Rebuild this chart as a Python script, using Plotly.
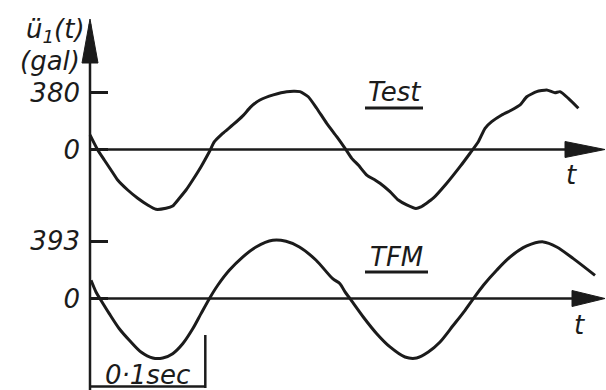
import plotly.graph_objects as go

# ---- data -------------------------------------------------------------
# Test record: time (s) and acceleration (gal)
test_t = [0.0, 0.0037, 0.0067, 0.0124, 0.0182, 0.0240, 0.0327, 0.0414, 0.0500,
          0.0572, 0.0659, 0.0717, 0.0775, 0.0833, 0.0891, 0.0963, 0.1035, 0.1079,
          0.1151, 0.1238, 0.1325, 0.1388, 0.1425, 0.1474, 0.1590, 0.1706, 0.1821,
          0.1893, 0.1966, 0.2053, 0.2140, 0.2212, 0.2270, 0.2327, 0.2400, 0.2472,
          0.2515, 0.2602, 0.2674, 0.2747, 0.2827, 0.2870, 0.2977, 0.3094, 0.3209,
          0.3296, 0.3368, 0.3426, 0.3484, 0.3571, 0.3657, 0.3730, 0.3788, 0.3874,
          0.3961, 0.4033, 0.4076, 0.4149, 0.4236]
test_a = [97, 41, -3, -70, -137, -204, -271, -326, -371,
          -400, -393, -378, -326, -271, -204, -115, -15, 52,
          108, 164, 225, 280, 306, 331, 365, 387, 387,
          353, 276, 175, 86, 8, -59, -104, -171, -204,
          -226, -282, -338, -371, -395, -384, -326, -226, -115,
          -25, 52, 142, 186, 231, 264, 298, 353, 387,
          398, 380, 387, 342, 276]

# TFM model: time (s) and acceleration (gal)
tfm_t = [0.0009, 0.0052, 0.0095, 0.0167, 0.0254, 0.0341, 0.0442, 0.0544, 0.0631,
         0.0717, 0.0804, 0.0891, 0.0963, 0.1035, 0.1108, 0.1208, 0.1324, 0.1440,
         0.1585, 0.1700, 0.1816, 0.1961, 0.2105, 0.2168, 0.2212, 0.2255, 0.2370,
         0.2487, 0.2602, 0.2732, 0.2833, 0.2934, 0.3036, 0.3151, 0.3253, 0.3325,
         0.3412, 0.3527, 0.3643, 0.3788, 0.3932, 0.4048, 0.4192, 0.4380]
tfm_a = [125, 45, -12, -104, -208, -287, -368, -409, -409,
         -379, -311, -208, -104, -1, 91, 194, 285, 354,
         400, 393, 354, 263, 136, 102, 45, -1, -127,
         -242, -333, -402, -409, -368, -299, -184, -81, -1,
         91, 194, 285, 361, 389, 354, 274, 159]

test_ticks = [0, 380]
tfm_ticks = [0, 393]
time_bar = 0.1  # length of the time-scale bracket (s)

# ---- geometry (pixels of the 606 x 390 page) -------------------------
W, H = 606, 390
AXIS_X = 90           # vertical axis position
PX_PER_S = 1153       # horizontal scale
TEST_ZERO, TEST_K = 149.5, 0.1495   # zero line y and px per gal
TFM_ZERO, TFM_K = 298.5, 0.1455

INK = "#1b1b1b"
FONT = dict(family="DejaVu Sans", size=26, color=INK, style="italic")


def fx(x):
    return x / W


def fy(y):
    return 1 - y / H


fig = go.Figure()
fig.add_trace(go.Scatter(x=test_t, y=test_a, mode="lines", yaxis="y",
                         line=dict(color=INK, width=3, shape="spline", smoothing=0.5),
                         showlegend=False, hoverinfo="skip"))
fig.add_trace(go.Scatter(x=tfm_t, y=tfm_a, mode="lines", yaxis="y2",
                         line=dict(color=INK, width=3, shape="spline", smoothing=0.8),
                         showlegend=False, hoverinfo="skip"))

y_common = dict(anchor="free", position=AXIS_X / W, showline=False, showgrid=False,
                zeroline=False, ticks="inside", ticklen=17, tickwidth=2.5,
                tickcolor=INK, tickfont=FONT, ticklabelstandoff=10, fixedrange=True)

fig.update_layout(
    width=W, height=H, margin=dict(l=0, r=0, t=0, b=0),
    paper_bgcolor="white", plot_bgcolor="white",
    xaxis=dict(range=[-AXIS_X / PX_PER_S, (W - AXIS_X) / PX_PER_S], visible=False,
               domain=[0, 1]),
    yaxis=dict(range=[(TEST_ZERO - H) / TEST_K, TEST_ZERO / TEST_K],
               tickvals=test_ticks, ticktext=[str(v) for v in test_ticks], **y_common),
    yaxis2=dict(range=[(TFM_ZERO - H) / TFM_K, TFM_ZERO / TFM_K], overlaying="y",
                tickvals=tfm_ticks, ticktext=[str(v) for v in tfm_ticks], **y_common),
)

shapes = []
# vertical axis with arrow head
shapes.append(dict(type="line", xref="paper", yref="paper", x0=fx(AXIS_X), x1=fx(AXIS_X),
                   y0=fy(24), y1=fy(H), line=dict(color=INK, width=2.5)))
shapes.append(dict(type="path", xref="paper", yref="paper",
                   path=f"M {fx(AXIS_X)} {fy(19)} L {fx(82)} {fy(63)} L {fx(98)} {fy(63)} Z",
                   fillcolor=INK, line=dict(color=INK, width=1)))
# time axes (zero lines) with arrow heads
for zero, base in ((TEST_ZERO, 565), (TFM_ZERO, 572)):
    shapes.append(dict(type="line", xref="paper", yref="paper", x0=fx(AXIS_X), x1=fx(base + 5),
                       y0=fy(zero), y1=fy(zero), line=dict(color=INK, width=2.5)))
    shapes.append(dict(type="path", xref="paper", yref="paper",
                       path=(f"M {fx(605)} {fy(zero)} L {fx(base)} {fy(zero - 8)} "
                             f"L {fx(base)} {fy(zero + 8)} Z"),
                       fillcolor=INK, line=dict(color=INK, width=1)))
# title underlines
shapes.append(dict(type="line", xref="paper", yref="paper", x0=fx(365), x1=fx(423),
                   y0=fy(108), y1=fy(108), line=dict(color=INK, width=3)))
shapes.append(dict(type="line", xref="paper", yref="paper", x0=fx(365), x1=fx(428),
                   y0=fy(272), y1=fy(272), line=dict(color=INK, width=3)))
# time-scale bracket
shapes.append(dict(type="line", xref="x", yref="paper", x0=0, x1=time_bar,
                   y0=fy(386.5), y1=fy(386.5), line=dict(color=INK, width=2.5)))
shapes.append(dict(type="line", xref="x", yref="paper", x0=time_bar, x1=time_bar,
                   y0=fy(335), y1=fy(388), line=dict(color=INK, width=2.5)))
fig.update_layout(shapes=shapes)

annotations = [
    dict(text="ü<sub>1</sub>(t)", x=fx(87), y=fy(31), xanchor="right"),
    dict(text="(gal)", x=fx(82), y=fy(61), xanchor="right"),
    dict(text="Test", x=fx(394), y=fy(92), xanchor="center"),
    dict(text="TFM", x=fx(396), y=fy(257), xanchor="center"),
    dict(text="t", x=fx(571), y=fy(175), xanchor="center"),
    dict(text="t", x=fx(579), y=fy(325), xanchor="center"),
]
for a in annotations:
    fig.add_annotation(xref="paper", yref="paper", yanchor="middle", showarrow=False,
                       font=FONT, **a)
fig.add_annotation(text="0·1sec", xref="x", yref="paper", x=time_bar / 2, y=fy(375),
                   xanchor="center", yanchor="middle", showarrow=False, font=FONT)

fig.write_html("out.html")
